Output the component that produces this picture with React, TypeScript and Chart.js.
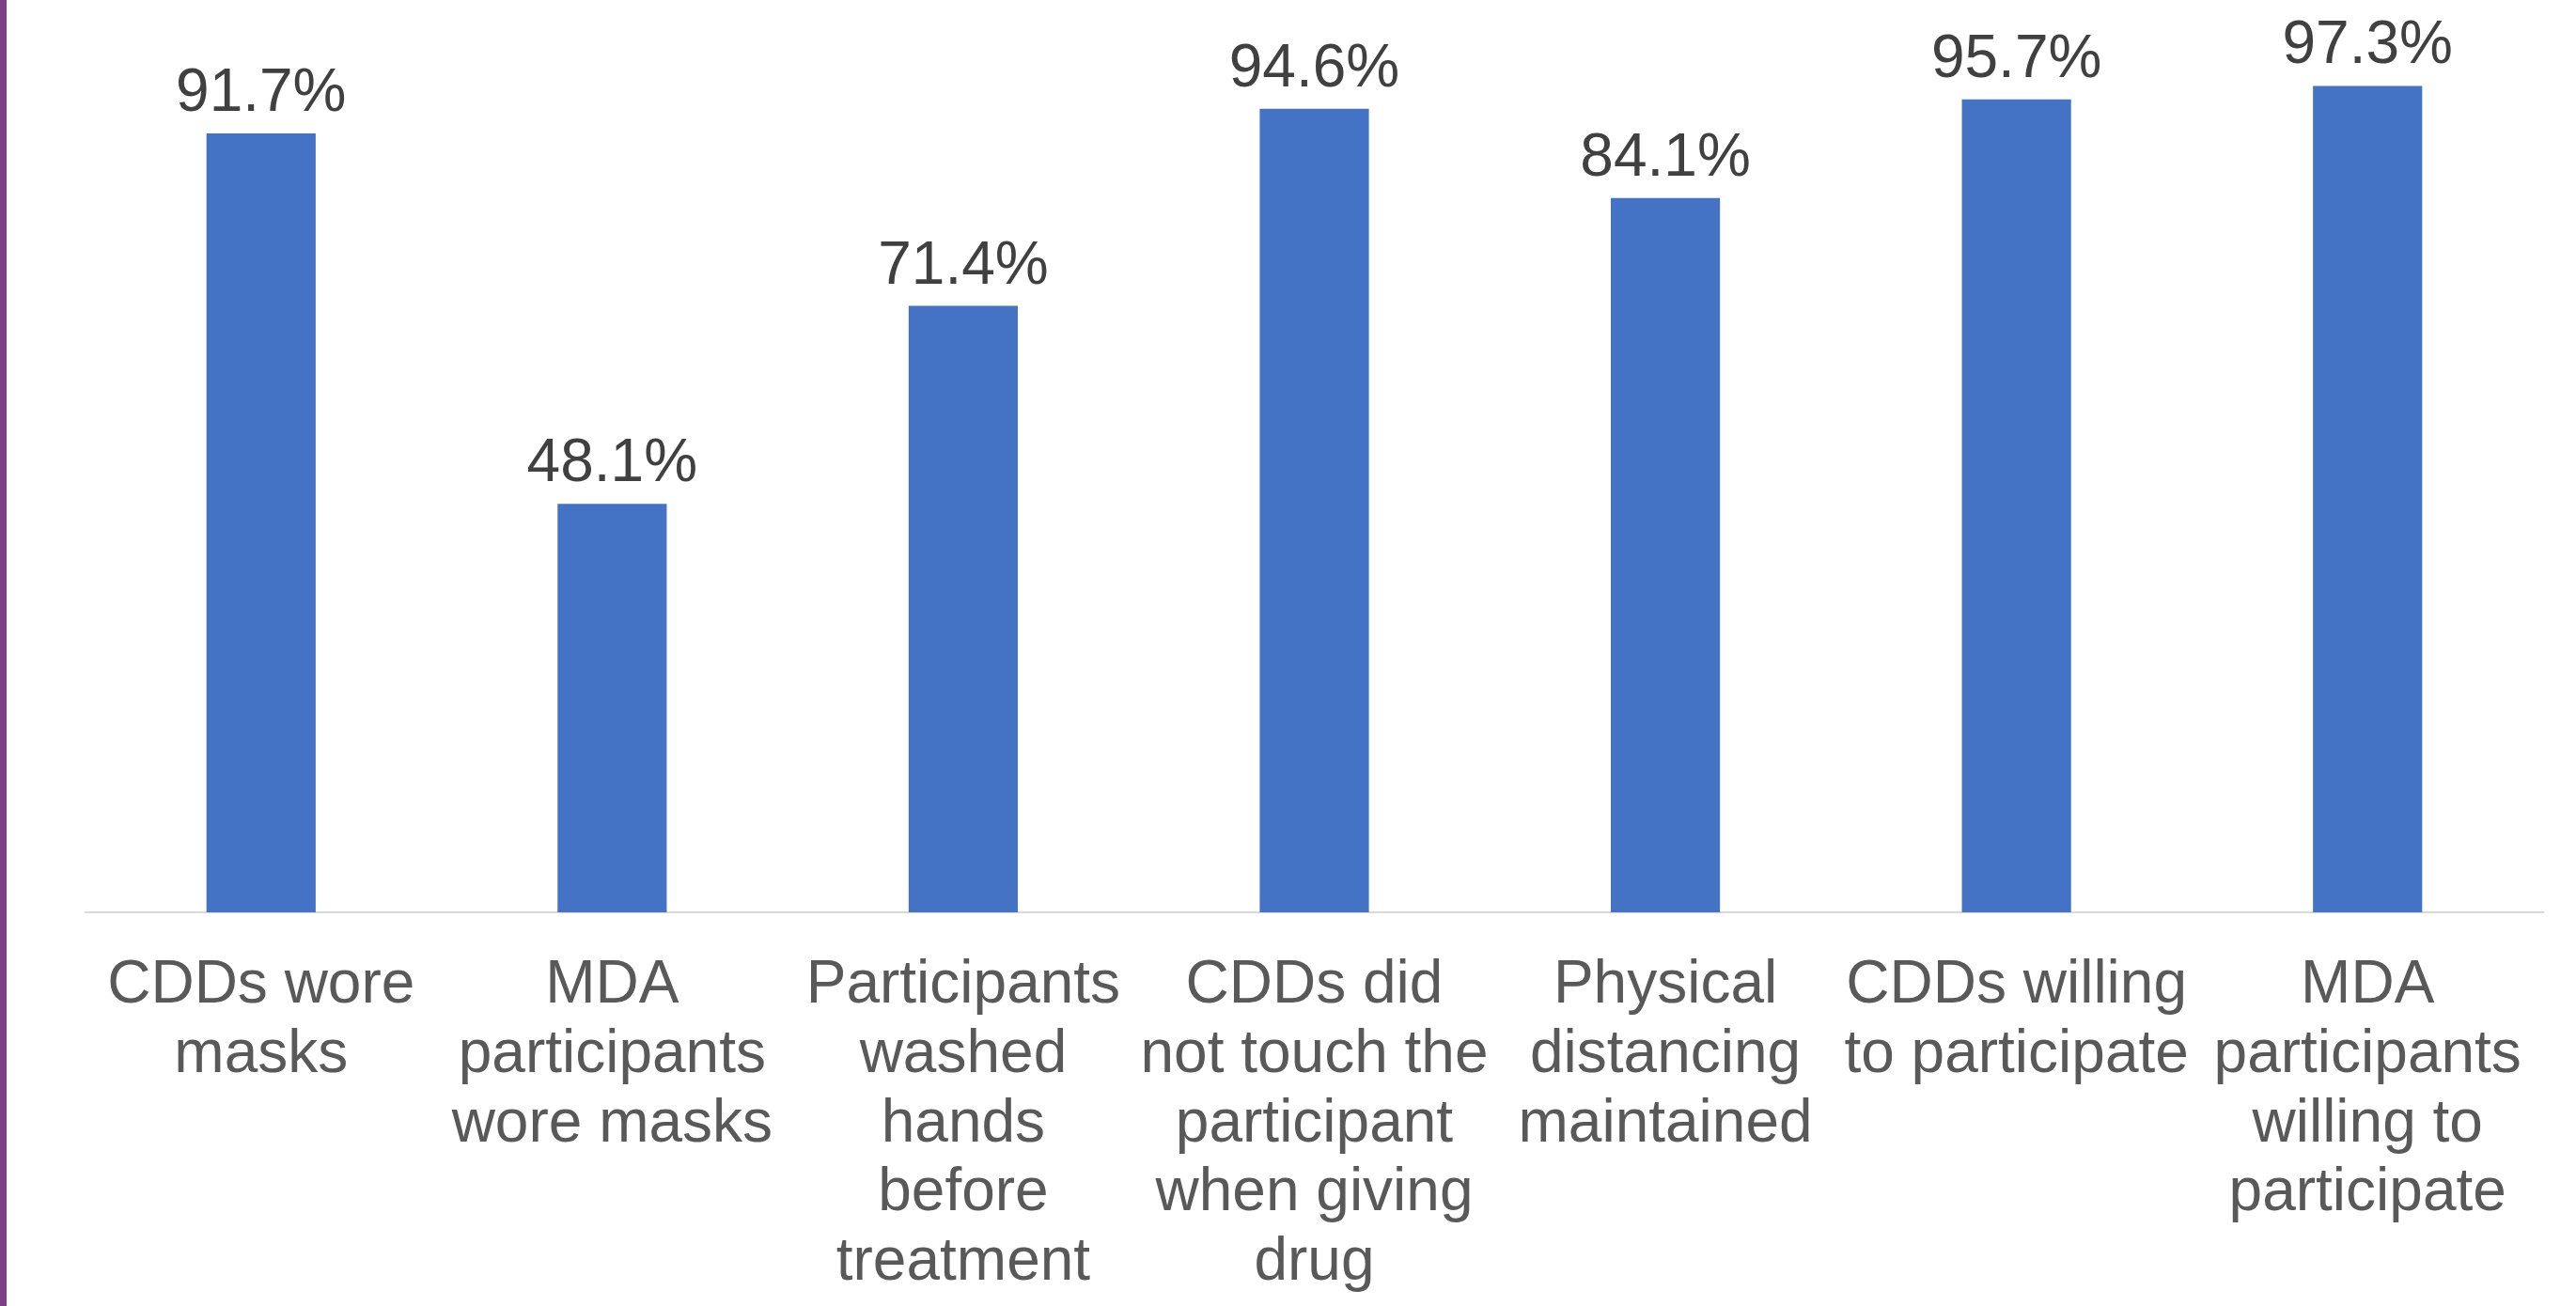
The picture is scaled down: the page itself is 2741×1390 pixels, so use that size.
import React, { useEffect, useRef } from "react";
import { Chart, registerables } from "chart.js";

Chart.register(...registerables);

const categories: string[][] = [
  ["CDDs wore", "masks"],
  ["MDA", "participants", "wore masks"],
  ["Participants", "washed", "hands", "before", "treatment"],
  ["CDDs did", "not touch the", "participant", "when giving", "drug"],
  ["Physical", "distancing", "maintained"],
  ["CDDs willing", "to participate"],
  ["MDA", "participants", "willing to", "participate"],
];

const values: number[] = [91.7, 48.1, 71.4, 94.6, 84.1, 95.7, 97.3];

const W = 2741;
const H = 1390;
const FONT = "'Liberation Sans', Arial, sans-serif";

const labelPlugin = {
  id: "barLabels",
  afterDatasetsDraw(chart: any) {
    const ctx = chart.ctx;
    const meta = chart.getDatasetMeta(0);
    ctx.save();
    ctx.font = `64px ${FONT}`;
    ctx.fillStyle = "#404040";
    ctx.textAlign = "center";
    ctx.textBaseline = "alphabetic";
    meta.data.forEach((el: any, i: number) => {
      ctx.fillText(values[i].toFixed(1) + "%", el.x, el.y - 24);
    });
    ctx.restore();
  },
};

export default function App() {
  const ref = useRef<HTMLCanvasElement>(null);
  useEffect(() => {
    document.body.style.margin = "0";
    const chart = new Chart(ref.current!, {
      type: "bar",
      data: {
        labels: categories,
        datasets: [
          {
            data: values,
            backgroundColor: "#4472C4",
            borderWidth: 0,
            categoryPercentage: 1,
            barPercentage: 0.311,
          },
        ],
      },
      options: {
        animation: false,
        responsive: false,
        devicePixelRatio: 1,
        layout: { padding: { left: 91, right: 35, top: 67, bottom: 0 } },
        plugins: {
          legend: { display: false },
          tooltip: { enabled: false },
          title: { display: false },
        },
        scales: {
          y: { display: false, min: 0, max: 100 },
          x: {
            grid: { display: false, drawTicks: false },
            border: { display: true, color: "#D9D9D9", width: 2 },
            ticks: {
              color: "#595959",
              font: { family: FONT, size: 64, lineHeight: 1.15 },
              padding: 42,
              maxRotation: 0,
              minRotation: 0,
              autoSkip: false,
            },
            afterFit: (scale: any) => {
              scale.height = 419;
            },
          },
        },
      },
      plugins: [labelPlugin],
    });
    return () => chart.destroy();
  }, []);
  return (
    <div style={{ position: "relative", width: W, height: H, background: "#fff", overflow: "hidden" }}>
      <canvas ref={ref} width={W} height={H} style={{ display: "block", width: W, height: H }} />
      <div style={{ position: "absolute", left: 0, top: 0, width: 7, height: H, background: "#7F3F87" }} />
    </div>
  );
}
